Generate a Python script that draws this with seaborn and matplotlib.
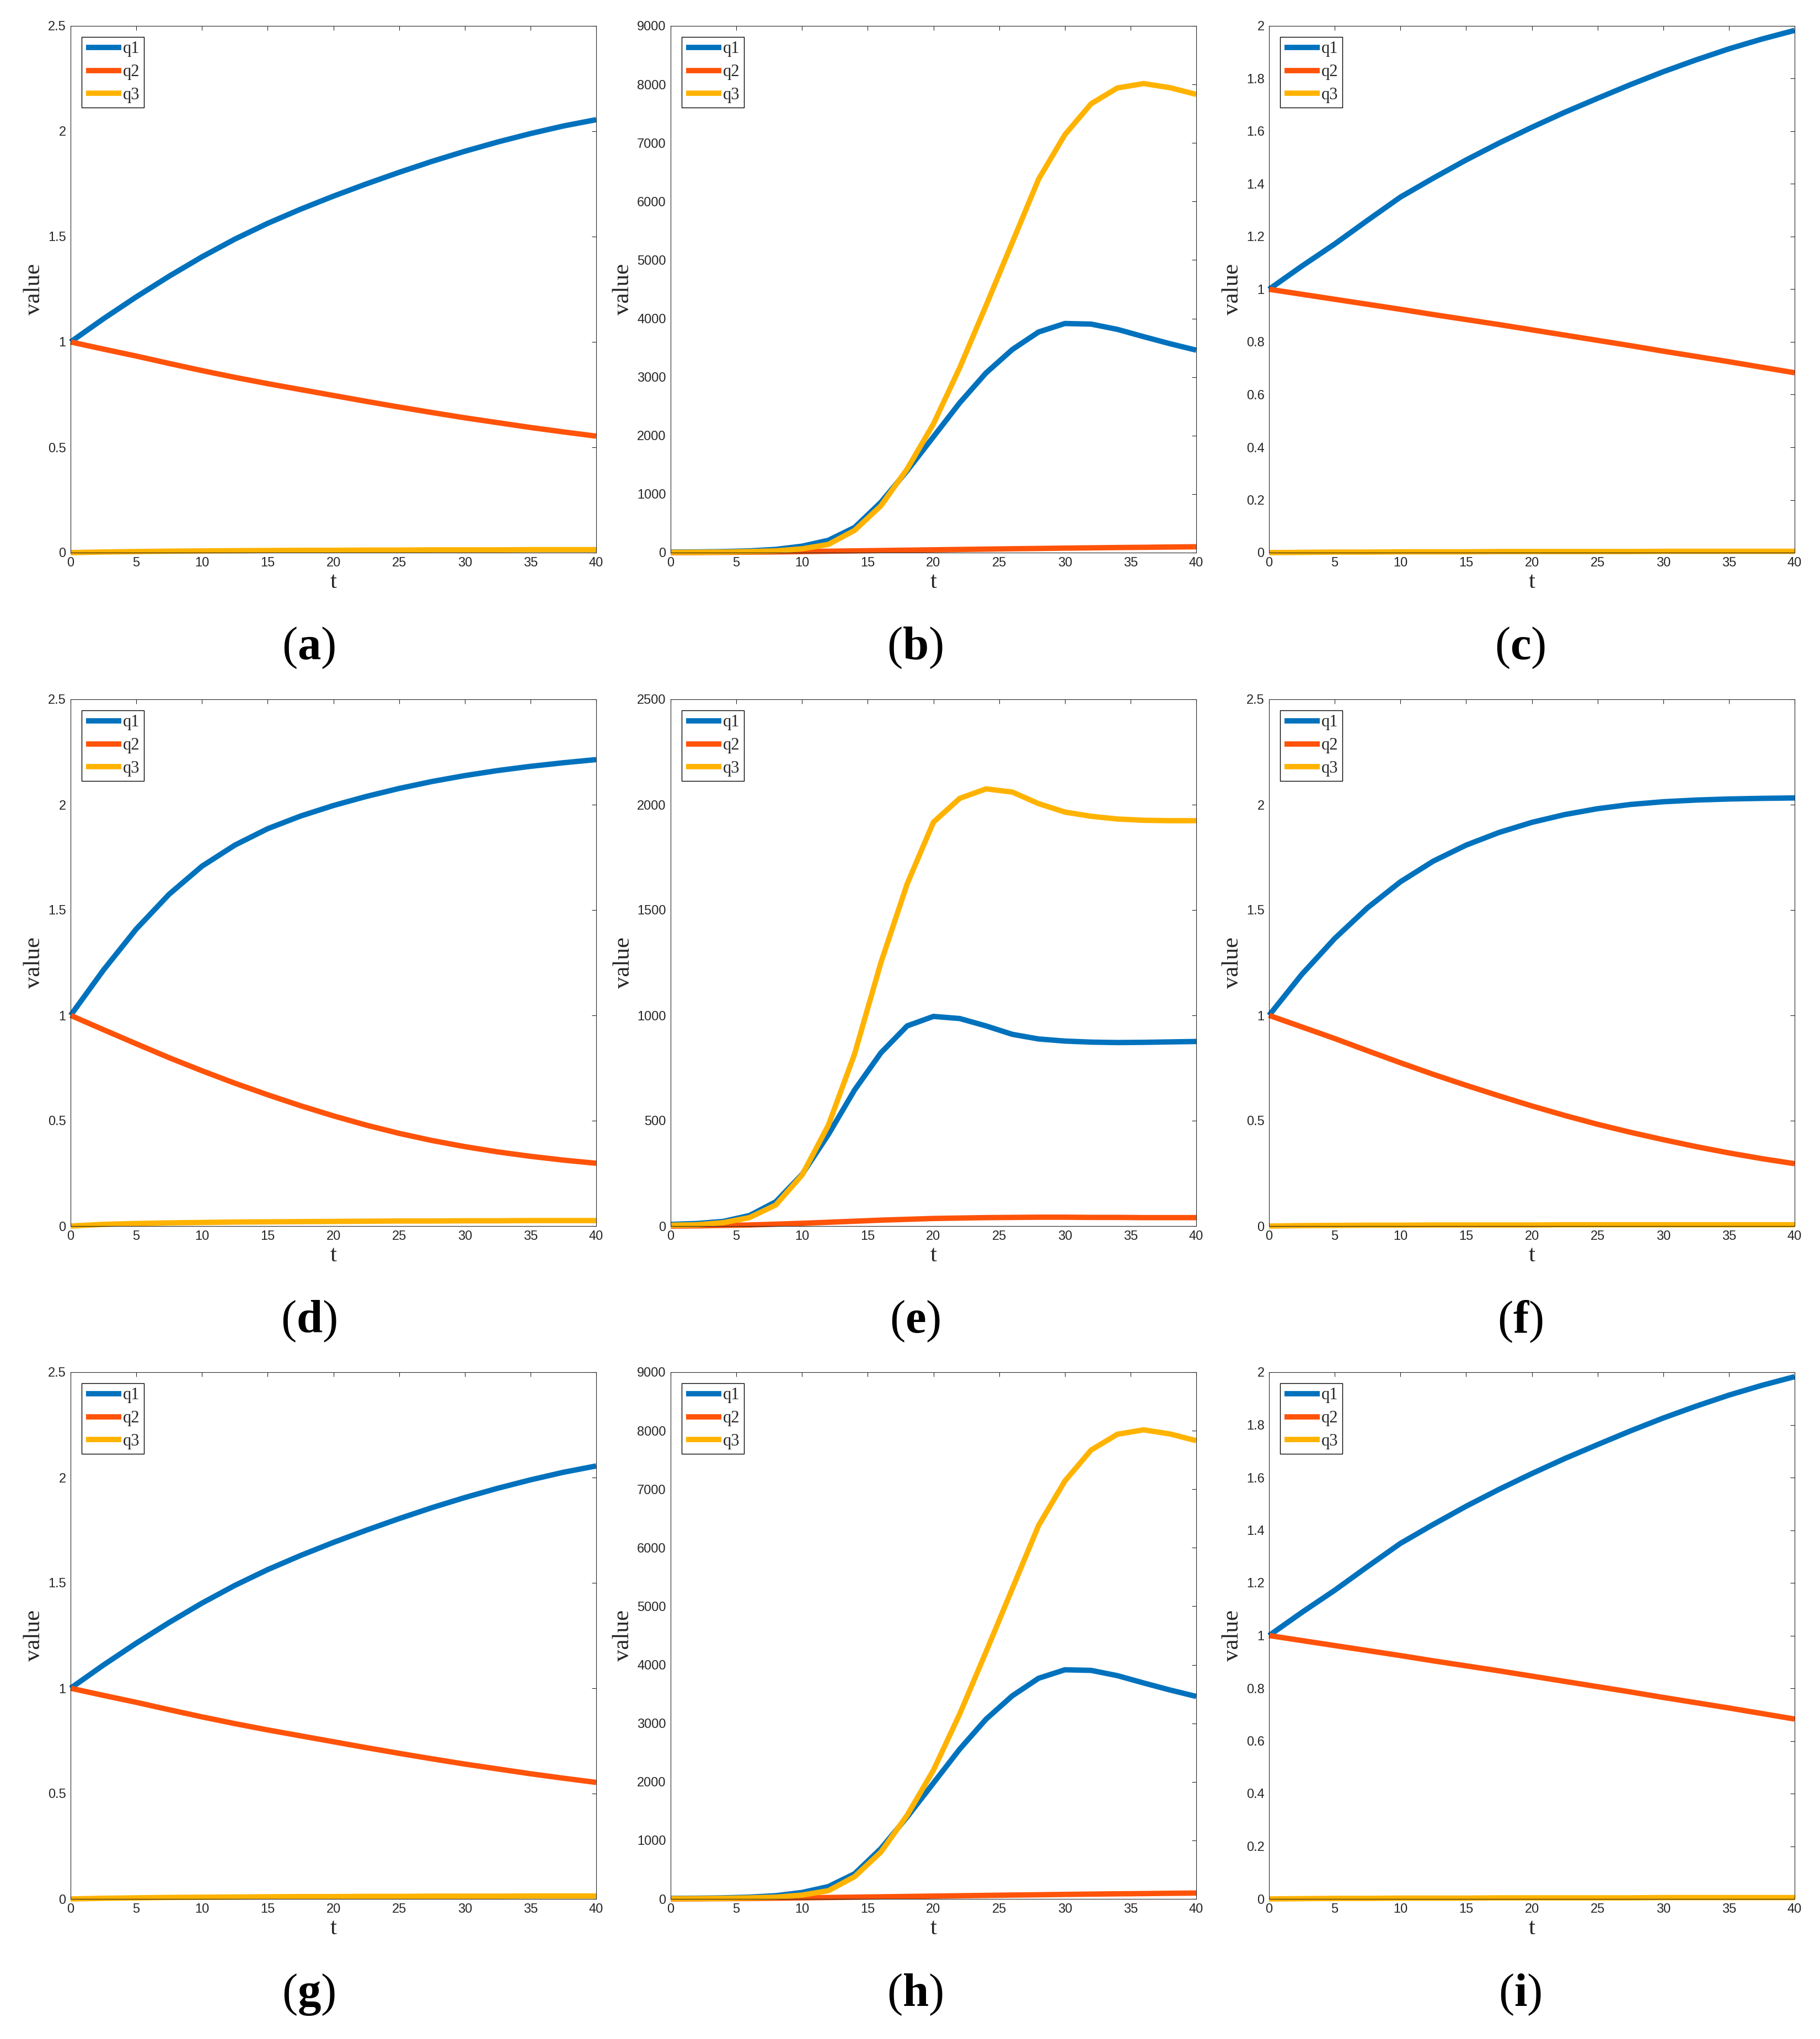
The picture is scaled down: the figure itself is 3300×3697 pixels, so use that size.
import pandas as pd
import matplotlib
matplotlib.use('Agg')
import matplotlib.pyplot as plt
from matplotlib.ticker import FuncFormatter
import seaborn as sns

# tiempos (lectura de la figura)
t_lento = [0, 2.5, 5, 7.5, 10, 12.5, 15, 17.5, 20, 22.5, 25, 27.5, 30, 32.5, 35, 37.5, 40]
t_rapido = [0, 2, 4, 6, 8, 10, 12, 14, 16, 18, 20, 22, 24, 26, 28, 30, 32, 34, 36, 38, 40]

# panel (a) / (g)
a_q1 = [1.0, 1.110, 1.214, 1.312, 1.404, 1.488, 1.563, 1.630, 1.692, 1.750, 1.805, 1.857, 1.905, 1.949, 1.989, 2.025, 2.055]
a_q2 = [1.0, 0.966, 0.933, 0.898, 0.864, 0.832, 0.802, 0.774, 0.746, 0.718, 0.691, 0.665, 0.640, 0.617, 0.594, 0.573, 0.553]
a_q3 = [0.0, 0.003, 0.005, 0.007, 0.008, 0.009, 0.010, 0.011, 0.011, 0.012, 0.012, 0.013, 0.013, 0.013, 0.014, 0.014, 0.014]

# panel (b) / (h)
b_q1 = [10, 12, 18, 30, 55, 110, 210, 430, 860, 1400, 1980, 2560, 3070, 3470, 3770, 3915, 3905, 3815, 3690, 3570, 3460]
b_q2 = [0, 2, 5, 8, 13, 18, 24, 30, 36, 42, 48, 54, 60, 66, 71, 77, 82, 87, 91, 96, 100]
b_q3 = [5, 6, 10, 18, 30, 65, 140, 380, 800, 1430, 2200, 3160, 4220, 5300, 6380, 7140, 7670, 7940, 8015, 7945, 7830]

# panel (c) / (i)
c_q1 = [1.0, 1.088, 1.172, 1.262, 1.350, 1.422, 1.491, 1.555, 1.615, 1.672, 1.725, 1.777, 1.826, 1.871, 1.913, 1.950, 1.983]
c_q2 = [1.0, 0.981, 0.962, 0.943, 0.924, 0.904, 0.885, 0.866, 0.846, 0.826, 0.806, 0.786, 0.765, 0.745, 0.725, 0.704, 0.683]
c_q3 = [0.0, 0.001, 0.002, 0.002, 0.003, 0.003, 0.003, 0.004, 0.004, 0.004, 0.004, 0.004, 0.005, 0.005, 0.005, 0.005, 0.005]

# panel (d)
d_q1 = [1.0, 1.215, 1.410, 1.575, 1.708, 1.808, 1.886, 1.946, 1.996, 2.039, 2.077, 2.110, 2.138, 2.162, 2.182, 2.199, 2.214]
d_q2 = [1.0, 0.932, 0.865, 0.799, 0.737, 0.678, 0.623, 0.571, 0.523, 0.479, 0.440, 0.406, 0.377, 0.352, 0.331, 0.313, 0.298]
d_q3 = [0.0, 0.008, 0.012, 0.015, 0.017, 0.019, 0.020, 0.021, 0.022, 0.023, 0.024, 0.024, 0.025, 0.025, 0.026, 0.026, 0.026]

# panel (e)
e_q1 = [8, 12, 22, 50, 115, 245, 434, 646, 822, 950, 995, 985, 950, 910, 888, 878, 873, 871, 872, 874, 876]
e_q2 = [0, 1, 3, 5, 9, 13, 18, 23, 28, 32, 36, 38, 40, 41, 42, 42, 41, 41, 40, 40, 40]
e_q3 = [4, 6, 16, 40, 100, 242, 478, 817, 1250, 1624, 1917, 2030, 2075, 2060, 2005, 1965, 1945, 1932, 1926, 1924, 1924]

# panel (f)
f_q1 = [1.0, 1.195, 1.365, 1.511, 1.634, 1.732, 1.808, 1.868, 1.916, 1.953, 1.981, 2.001, 2.014, 2.022, 2.027, 2.030, 2.032]
f_q2 = [1.0, 0.945, 0.890, 0.832, 0.775, 0.720, 0.668, 0.618, 0.570, 0.525, 0.483, 0.445, 0.410, 0.377, 0.347, 0.320, 0.296]
f_q3 = [0.0, 0.002, 0.003, 0.004, 0.004, 0.005, 0.005, 0.005, 0.005, 0.006, 0.006, 0.006, 0.006, 0.006, 0.006, 0.006, 0.006]

series = ['q1', 'q2', 'q3']
colores = {'q1': '#0072BD', 'q2': '#FF530A', 'q3': '#FFB300'}
letras = ['a', 'b', 'c', 'd', 'e', 'f', 'g', 'h', 'i']

paneles = [
    (t_lento, a_q1, a_q2, a_q3, 2.5, 0.5),
    (t_rapido, b_q1, b_q2, b_q3, 9000, 1000),
    (t_lento, c_q1, c_q2, c_q3, 2.0, 0.2),
    (t_lento, d_q1, d_q2, d_q3, 2.5, 0.5),
    (t_rapido, e_q1, e_q2, e_q3, 2500, 500),
    (t_lento, f_q1, f_q2, f_q3, 2.5, 0.5),
    (t_lento, a_q1, a_q2, a_q3, 2.5, 0.5),
    (t_rapido, b_q1, b_q2, b_q3, 9000, 1000),
    (t_lento, c_q1, c_q2, c_q3, 2.0, 0.2),
]

sns.set_theme(style='white')
plt.rcParams['font.family'] = ['Liberation Sans', 'DejaVu Sans']
plt.rcParams['mathtext.fontset'] = 'custom'
plt.rcParams['mathtext.rm'] = 'Liberation Serif'
plt.rcParams['mathtext.bf'] = 'Liberation Serif:bold'

gris = '#262626'
W, H = 3300, 3697
fig = plt.figure(figsize=(W / 100, H / 100), dpi=100)

izq = [128, 1216, 2301]
arriba = [47, 1268, 2488]
ancho, alto = 953, 955
etiqueta_x = [560, 1659, 2756]
etiqueta_y = [1175, 2396, 3617]

fmt = FuncFormatter(lambda v, p: ('%g' % round(v, 6)))

for i, (t, q1, q2, q3, ymax, paso) in enumerate(paneles):
    fila, col = divmod(i, 3)
    ax = fig.add_axes([izq[col] / W, 1 - (arriba[fila] + alto) / H, ancho / W, alto / H])

    df = pd.DataFrame({'t': t * 3,
                       'value': list(q1) + list(q2) + list(q3),
                       'serie': ['q1'] * len(t) + ['q2'] * len(t) + ['q3'] * len(t)})
    sns.lineplot(data=df, x='t', y='value', hue='serie', hue_order=series,
                 palette=colores, linewidth=7, estimator=None, ax=ax,
                 solid_capstyle='butt', solid_joinstyle='round', clip_on=False)

    ax.set_xlim(0, 40)
    ax.set_ylim(0, ymax)
    ax.set_xticks(range(0, 41, 5))
    n = int(round(ymax / paso))
    ax.set_yticks([k * paso for k in range(n + 1)])
    ax.xaxis.set_major_formatter(fmt)
    ax.yaxis.set_major_formatter(fmt)

    for s in ax.spines.values():
        s.set_visible(True)
        s.set_color(gris)
        s.set_linewidth(0.8)
    ax.tick_params(direction='in', top=True, right=True, length=5.5, width=0.8,
                   color=gris, labelcolor=gris, labelsize=17, pad=6)

    ax.set_xlabel('t', family='Liberation Serif', fontsize=31, color=gris, labelpad=3)
    ax.set_ylabel('value', family='Liberation Serif', fontsize=31, color=gris, labelpad=4)

    viejo = ax.get_legend()
    handles = viejo.legend_handles
    labels = [tx.get_text() for tx in viejo.texts]
    for h in handles:
        h.set_linewidth(7)
        h.set_solid_capstyle('butt')
    leg = ax.legend(handles, labels, loc='upper left', prop={'family': 'Liberation Serif', 'size': 22},
                    frameon=True, fancybox=False, framealpha=1, edgecolor='black',
                    borderpad=0.25, handlelength=2.1, handletextpad=0.12,
                    labelspacing=0.42, borderaxespad=0.65)
    leg.get_frame().set_linewidth(1.0)

    fig.text(etiqueta_x[col] / W, 1 - etiqueta_y[fila] / H, r'($\mathbf{%s}$)' % letras[i],
             ha='center', va='center', fontsize=61, family='Liberation Serif', color='black')

fig.savefig('out.png', dpi=100, facecolor='white')
